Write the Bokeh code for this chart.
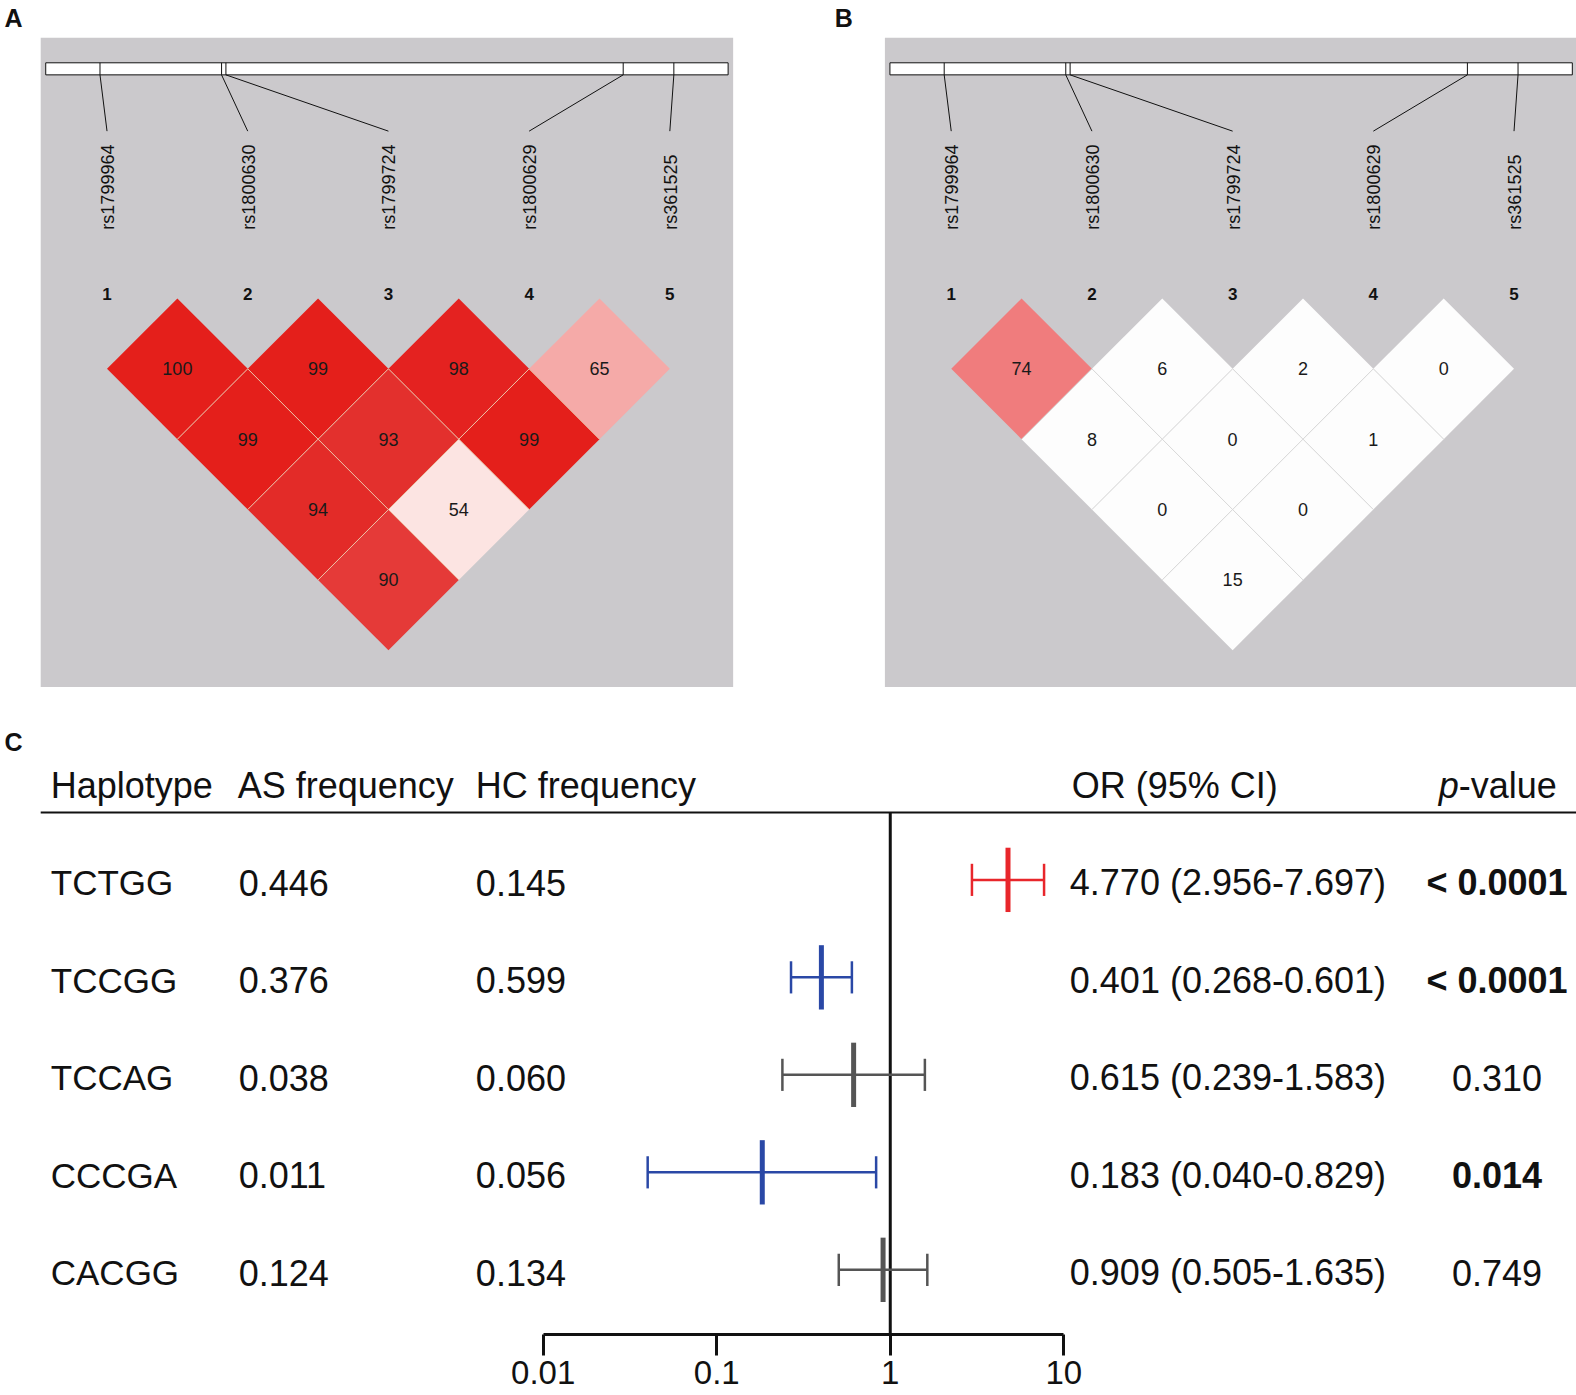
import math
from bokeh.plotting import figure
from bokeh.models import Range1d, LogScale, LogAxis, FixedTicker, NumeralTickFormatter
from bokeh.layouts import column, row
from bokeh.embed import file_html
from bokeh.resources import INLINE
from bokeh.core.properties import value

# ---------------- data ----------------
snp_names = ["rs1799964", "rs1800630", "rs1799724", "rs1800629", "rs361525"]
snp_bp = [-1031, -863, -857, -308, -238]          # position relative to TSS
snp_index = ["1", "2", "3", "4", "5"]

# LD pairs (SNP i, SNP j)
pair_i = [1, 2, 3, 4, 1, 2, 3, 1, 2, 1]
pair_j = [2, 3, 4, 5, 3, 4, 5, 4, 5, 5]
ld_as = [100, 99, 98, 65, 99, 93, 99, 94, 54, 90]   # panel A
ld_hc = [74, 6, 2, 0, 8, 0, 1, 0, 0, 15]            # panel B
ld_as_colors = ["#E41F1B", "#E41F1B", "#E42220", "#F5AAA8", "#E41F1B",
                "#E3302D", "#E41F1B", "#E32B28", "#FCE4E2", "#E53A38"]
ld_hc_colors = ["#F07C7D"] + ["#FDFDFD"] * 9

haplotypes = ["TCTGG", "TCCGG", "TCCAG", "CCCGA", "CACGG"]
as_freq = [0.446, 0.376, 0.038, 0.011, 0.124]
hc_freq = [0.145, 0.599, 0.060, 0.056, 0.134]
or_val = [4.770, 0.401, 0.615, 0.183, 0.909]
ci_lo = [2.956, 0.268, 0.239, 0.040, 0.505]
ci_hi = [7.697, 0.601, 1.583, 0.829, 1.635]
p_text = ["< 0.0001", "< 0.0001", "0.310", "0.014", "0.749"]
p_num = [0.0001, 0.0001, 0.310, 0.014, 0.749]
or_ticks = [0.01, 0.1, 1, 10]

# ---------------- style / layout ----------------
FONT = value("Liberation Sans")
GRAY = "#CBC9CC"
RED, BLUE, DGRAY = "#E8262B", "#2A48A6", "#555555"
SC = 1.005                 # page px per layout unit
W = 1576
TOP_H = 710
SNP_X0, SNP_DX = 106, 140
BAR_L, BAR_R, BAR_T, BAR_B = 45, 724, 62, 74
BAR_MARGIN_BP = 75


def ld_panel(letter, values, colors, border_color, x0, x1, letter_x):
    p = figure(width=W // 2, height=TOP_H, x_range=Range1d(x0, x1),
               y_range=Range1d(TOP_H / SC, 0), output_backend="svg",
               toolbar_location=None, x_axis_location=None, y_axis_location=None,
               min_border=0, outline_line_color=None)
    p.xgrid.visible = False
    p.ygrid.visible = False
    p.quad(left=40, right=729, top=37, bottom=683, fill_color=GRAY, line_color=None)

    lo, hi = min(snp_bp) - BAR_MARGIN_BP, max(snp_bp) + BAR_MARGIN_BP
    tick_x = [BAR_L + (b - lo) * (BAR_R - BAR_L) / (hi - lo) for b in snp_bp]
    snp_x = [SNP_X0 + SNP_DX * k for k in range(len(snp_names))]

    p.quad(left=BAR_L, right=BAR_R, top=BAR_T, bottom=BAR_B,
           fill_color="white", line_color="#111111", line_width=1)
    p.segment(x0=tick_x, y0=BAR_T, x1=tick_x, y1=BAR_B, line_color="#111111", line_width=1)
    p.segment(x0=tick_x, y0=BAR_B, x1=snp_x, y1=130, line_color="#111111", line_width=1)
    p.text(x=[x + 1 for x in snp_x], y=228, text=snp_names, angle=math.pi / 2,
           text_align="left", text_baseline="middle", text_font=FONT,
           text_font_size="18px", text_color="#111111")
    p.text(x=snp_x, y=292, text=snp_index, text_align="center", text_baseline="middle",
           text_font=FONT, text_font_size="17px", text_font_style="bold",
           text_color="#111111")

    half = SNP_DX / 2
    xs, ys, cxs, cys = [], [], [], []
    ex, ey = [], []
    n = len(snp_names)
    for i, j in zip(pair_i, pair_j):
        cx = (snp_x[i - 1] + snp_x[j - 1]) / 2
        cy = 366.5 + half * (j - i - 1)
        cxs.append(cx)
        cys.append(cy)
        xs.append([cx - half, cx, cx + half, cx])
        ys.append([cy, cy - half, cy, cy + half])
        if j + 1 <= n:
            ex.append([cx + half, cx]); ey.append([cy, cy + half])
        if i - 1 >= 1:
            ex.append([cx - half, cx]); ey.append([cy, cy + half])
    p.patches(xs=xs, ys=ys, fill_color=colors, line_color=None)
    p.multi_line(xs=ex, ys=ey, line_color=border_color, line_width=1)
    p.text(x=cxs, y=cys, text=[str(v) for v in values], text_align="center",
           text_baseline="middle", text_font=FONT, text_font_size="18px",
           text_color="#1a1a1a")
    p.text(x=[letter_x], y=[17], text=[letter], text_align="left", text_baseline="middle",
           text_font=FONT, text_font_size="25px", text_font_style="bold",
           text_color="#111111")
    return p


half_w = (W // 2) / SC
pa = ld_panel("A", ld_as, ld_as_colors, "#EDC3A8", 0, half_w, 4)
pb = ld_panel("B", ld_hc, ld_hc_colors, "#D8D8D8", half_w - 840, 2 * half_w - 840, -10)

# ---------------- panel C: forest plot ----------------
ROW0, ROWD = 875, 97.0
AXIS_Y = 1327
frame_h = round(AXIS_Y * SC) - TOP_H
top_u = TOP_H / SC
bot_u = (TOP_H + frame_h) / SC
y_top = (top_u - ROW0) / ROWD
y_bot = (bot_u - ROW0) / ROWD
pc = figure(frame_width=W, frame_height=frame_h, x_range=Range1d(0, W / SC),
            y_range=Range1d(y_bot, y_top), output_backend="svg",
            toolbar_location=None, x_axis_location=None, y_axis_location=None,
            min_border=0, min_border_bottom=58, outline_line_color=None)
pc.xgrid.visible = False
pc.ygrid.visible = False
px_per_dec = (1058 - 540) / 3.0
pc.extra_x_ranges = {"or": Range1d(10 ** (-2 - 540 / px_per_dec),
                                   10 ** (1 + (W / SC - 1058) / px_per_dec))}
pc.extra_x_scales = {"or": LogScale()}

ax = LogAxis(x_range_name="or", ticker=FixedTicker(ticks=or_ticks, minor_ticks=[]),
             formatter=NumeralTickFormatter(format="0.[00]"), bounds=(0.01, 10))
ax.axis_line_width = 3
ax.axis_line_color = "#111111"
ax.major_tick_line_width = 3
ax.major_tick_line_color = "#111111"
ax.major_tick_in = 0
ax.major_tick_out = 21
ax.minor_tick_line_color = None
ax.major_label_standoff = 5
ax.major_label_text_font = "Liberation Sans"
ax.major_label_text_font_size = "33px"
ax.major_label_text_line_height = 1.0
ax.major_label_text_color = "#111111"
pc.add_layout(ax, "below")

rows = list(range(len(haplotypes)))
trow = [r + 0.03 for r in rows]
hdr_y = (781 - ROW0) / ROWD
line_y = (808 - ROW0) / ROWD

txt = dict(text_font=FONT, text_font_size="36px", text_color="#111111",
           text_baseline="middle")
pc.text(x=[4], y=[(738 - ROW0) / ROWD], text=["C"], text_align="left",
        text_font=FONT, text_font_size="25px", text_font_style="bold",
        text_color="#111111", text_baseline="middle")
pc.text(x=[50, 236, 473, 1066], y=hdr_y,
        text=["Haplotype", "AS frequency", "HC frequency", "OR (95% CI)"],
        text_align="left", **txt)
pc.text(x=[1451], y=hdr_y, text=["p"], text_align="right", text_font_style="italic", **txt)
pc.text(x=[1451], y=hdr_y, text=["-value"], text_align="left", **txt)
pc.segment(x0=[40], y0=[line_y], x1=[W], y1=[line_y], line_color="#111111", line_width=2)

pc.text(x=50, y=trow, text=haplotypes, text_align="left",
        text_font=FONT, text_font_size="35px", text_color="#111111", text_baseline="middle")
pc.text(x=237, y=trow, text=[f"{v:.3f}" for v in as_freq], text_align="left", **txt)
pc.text(x=473, y=trow, text=[f"{v:.3f}" for v in hc_freq], text_align="left", **txt)
pc.text(x=1064, y=trow, text=[f"{o:.3f} ({l:.3f}-{h:.3f})" for o, l, h in zip(or_val, ci_lo, ci_hi)],
        text_align="left", **txt)
sig = [k for k in rows if p_num[k] < 0.05]
nsig = [k for k in rows if p_num[k] >= 0.05]
pc.text(x=1489, y=[trow[k] for k in sig], text=[p_text[k] for k in sig], text_align="center",
        text_font_style="bold", **txt)
pc.text(x=1489, y=[trow[k] for k in nsig], text=[p_text[k] for k in nsig], text_align="center", **txt)

# reference line at OR = 1
pc.segment(x0=[1], y0=[line_y], x1=[1], y1=[y_bot], x_range_name="or",
           line_color="#111111", line_width=3)

colors = [(RED if o > 1 else BLUE) if pv < 0.05 else DGRAY for o, pv in zip(or_val, p_num)]
cap = 16 / ROWD
mid = 32 / ROWD
pc.segment(x0=ci_lo, y0=rows, x1=ci_hi, y1=rows, x_range_name="or",
           line_color=colors, line_width=2.5)
pc.segment(x0=ci_lo, y0=[r - cap for r in rows], x1=ci_lo, y1=[r + cap for r in rows],
           x_range_name="or", line_color=colors, line_width=2.5)
pc.segment(x0=ci_hi, y0=[r - cap for r in rows], x1=ci_hi, y1=[r + cap for r in rows],
           x_range_name="or", line_color=colors, line_width=2.5)
pc.segment(x0=or_val, y0=[r - mid for r in rows], x1=or_val, y1=[r + mid for r in rows],
           x_range_name="or", line_color=colors, line_width=5)

layout = column(row(pa, pb, spacing=0), pc, spacing=0)
open("out.html", "w").write(file_html(layout, INLINE))
